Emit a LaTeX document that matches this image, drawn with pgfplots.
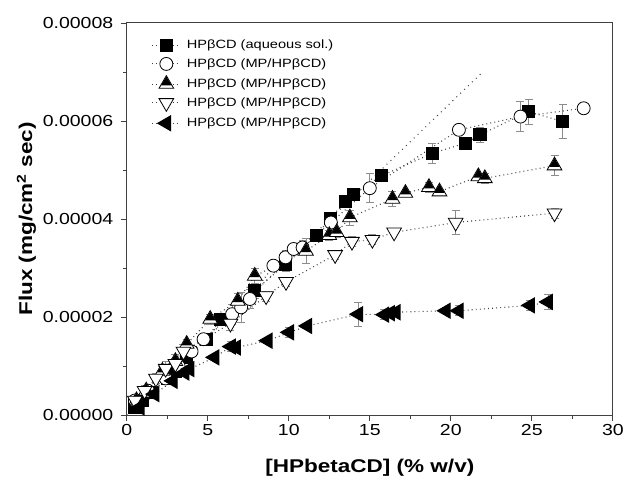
\documentclass[border=0pt]{standalone}
\usepackage{pgfplots}
\usepackage{pgfplotstable}
\usepackage{fontspec}
\setmainfont[FakeStretch=1.22]{Liberation Sans}
\pgfplotsset{compat=1.18}

% triangle, black on top and white stripe at the bottom
\pgfdeclareplotmark{halftri}{%
  \pgfpathmoveto{\pgfqpoint{0pt}{\pgfplotmarksize}}%
  \pgfpathlineto{\pgfqpoint{-0.866\pgfplotmarksize}{-0.5\pgfplotmarksize}}%
  \pgfpathlineto{\pgfqpoint{0.866\pgfplotmarksize}{-0.5\pgfplotmarksize}}%
  \pgfpathclose
  \pgfsetfillcolor{white}\pgfusepathqfillstroke
  \pgfpathmoveto{\pgfqpoint{0pt}{0.9\pgfplotmarksize}}%
  \pgfpathlineto{\pgfqpoint{-0.62\pgfplotmarksize}{-0.15\pgfplotmarksize}}%
  \pgfpathlineto{\pgfqpoint{0.62\pgfplotmarksize}{-0.15\pgfplotmarksize}}%
  \pgfpathclose
  \pgfsetfillcolor{black}\pgfusepathqfill
}

% flux in units of 1e-5 mg/cm^2 sec
\pgfplotstableread{
x y e
0.5 0.15 0
1.0 0.30 0.05
1.5 0.47 0
2.5 0.75 0.1
3.0 0.90 0
3.7 1.18 0.1
4.9 1.55 0.1
5.8 1.96 0.1
7.9 2.54 0.15
9.8 3.08 0.15
11.7 3.66 0.1
12.55 4.02 0.1
13.5 4.35 0.1
14.0 4.51 0.1
15.7 4.88 0.1
18.85 5.34 0.2
20.9 5.55 0.1
21.8 5.72 0.15
24.8 6.19 0.25
26.9 5.99 0.35
}\aqueous

\pgfplotstableread{
x y e
0.5 0.30 0.1
1.3 0.50 0.1
2.4 0.75 0.1
3.2 1.00 0.1
4.0 1.30 0.1
4.74 1.55 0.1
6.5 2.06 0.2
7.06 2.20 0.3
7.6 2.37 0.2
9.05 3.05 0.1
9.8 3.22 0.15
10.3 3.39 0.1
10.85 3.42 0.15
12.6 3.93 0.15
15.0 4.63 0.3
20.5 5.82 0.1
24.3 6.09 0.3
28.2 6.26 0
}\mpA

\pgfplotstableread{
x y e
0.6 0.30 0.1
1.2 0.50 0.1
2.2 0.90 0.1
3.0 1.10 0.15
3.7 1.45 0.1
5.15 1.96 0.1
6.85 2.33 0.15
7.9 2.84 0.15
11.06 3.35 0.25
12.5 3.67 0.1
12.96 3.73 0.1
13.77 4.03 0.15
16.4 4.41 0.15
17.2 4.53 0
18.65 4.65 0.1
19.3 4.56 0
21.7 4.87 0
22.1 4.83 0.1
26.4 5.09 0.2
}\mpB

\pgfplotstableread{
x y e
0.5 0.30 0.1
1.1 0.50 0.1
1.8 0.75 0.1
2.4 0.95 0.15
3.0 1.05 0.1
3.5 1.30 0.15
6.4 1.87 0.15
8.6 2.43 0.1
9.83 2.72 0.1
12.86 3.27 0.1
13.9 3.54 0.1
15.16 3.58 0.1
16.5 3.73 0.05
20.3 3.93 0.25
26.4 4.12 0.1
}\mpC

\pgfplotstableread{
x y e
0.8 0.16 0.05
1.72 0.43 0.05
2.85 0.70 0.05
3.57 0.87 0.05
3.88 0.94 0.05
5.42 1.18 0.05
6.44 1.40 0.1
6.75 1.38 0.05
8.7 1.52 0.05
10.03 1.69 0.1
11.15 1.82 0.05
14.3 2.06 0.25
15.9 2.05 0.1
16.25 2.08 0
16.6 2.10 0
19.7 2.13 0.05
20.5 2.13 0.1
24.9 2.24 0.1
26.0 2.31 0.15
}\mpD

\begin{document}
\begin{tikzpicture}
  \begin{axis}[
      scale only axis,
      width=487pt,
      height=393pt,
      xmin=0, xmax=30,
      ymin=0, ymax=8e-5,
      xtick={0,5,...,30},
      minor x tick num=1,
      ytick={0,2e-5,4e-5,6e-5,8e-5},
      minor y tick num=1,
      scaled y ticks=false,
      yticklabel style={xshift=-4pt, /pgf/number format/.cd, fixed, fixed zerofill, precision=5},
      /pgf/number format/assume math mode=true,
      tick align=outside,
      tick pos=left,
      major tick length=6pt,
      minor tick length=4pt,
      axis line style={black!75, line width=1pt},
      tick style={black!75, line width=0.8pt},
      ticklabel style={font=\fontsize{16}{18}\selectfont},
      xlabel={\textbf{[HPbetaCD] (\% w/v)}},
      ylabel={\textbf{Flux (mg/cm\textsuperscript{2} sec)}},
      label style={font=\fontsize{18.5}{20}\selectfont},
      xlabel style={yshift=-16pt},
      legend style={draw=none, fill=none, at={(0.045,0.967)}, anchor=north west,
        font=\fontsize{12}{14}\selectfont, row sep=4.6pt,
        /tikz/every odd column/.append style={column sep=4pt}},
      legend cell align=left,
      legend image code/.code={%
        \draw[mark repeat=2, mark phase=2] plot coordinates {(0pt,0pt) (14pt,0pt) (28pt,0pt)};},
      error bars/error bar style={black!45, solid, line width=0.8pt},
      error bars/error mark options={rotate=90, mark size=4pt, black!45, solid, line width=0.8pt},
      dots/.style={black!75, line width=1.1pt, dash pattern=on 0.9pt off 3.2pt},
    ]
    \addplot[dots, mark=square*, mark size=6pt, mark options={solid, fill=black, draw=black},
      error bars/.cd, y dir=both, y explicit]
      table[x=x, y expr=\thisrow{y}*1e-5, y error expr=\thisrow{e}*1e-5] {\aqueous};
    \addlegendentry{HPβCD (aqueous sol.)}
    \addplot[dots, mark=*, mark size=6.5pt, mark options={solid, fill=white, draw=black, line width=0.8pt},
      error bars/.cd, y dir=both, y explicit]
      table[x=x, y expr=\thisrow{y}*1e-5, y error expr=\thisrow{e}*1e-5] {\mpA};
    \addlegendentry{HPβCD (MP/HPβCD)}
    \addplot[dots, mark=halftri, mark size=8.5pt, mark options={solid, draw=black, line width=0.8pt},
      error bars/.cd, y dir=both, y explicit]
      table[x=x, y expr=\thisrow{y}*1e-5, y error expr=\thisrow{e}*1e-5] {\mpB};
    \addlegendentry{HPβCD (MP/HPβCD)}
    \addplot[dots, mark=triangle*, mark size=8.5pt, mark options={solid, rotate=180, fill=white, draw=black, line width=0.8pt},
      error bars/.cd, y dir=both, y explicit]
      table[x=x, y expr=\thisrow{y}*1e-5, y error expr=\thisrow{e}*1e-5] {\mpC};
    \addlegendentry{HPβCD (MP/HPβCD)}
    \addplot[dots, mark=triangle*, mark size=8.5pt, mark options={solid, rotate=90, fill=black, draw=black},
      error bars/.cd, y dir=both, y explicit]
      table[x=x, y expr=\thisrow{y}*1e-5, y error expr=\thisrow{e}*1e-5] {\mpD};
    \addlegendentry{HPβCD (MP/HPβCD)}
    % linear fit of the aqueous series
    \addplot[black!75, line width=1.1pt, dash pattern=on 0.9pt off 4.5pt, mark=none, forget plot]
      coordinates {(0,0) (21.93,6.99e-5)};
  \end{axis}
  % page margins of the reference around the axis box
  \path ([xshift=-127pt, yshift=-68pt]current axis.south west)
    rectangle ([xshift=13pt, yshift=23pt]current axis.north east);
\end{tikzpicture}
\end{document}
